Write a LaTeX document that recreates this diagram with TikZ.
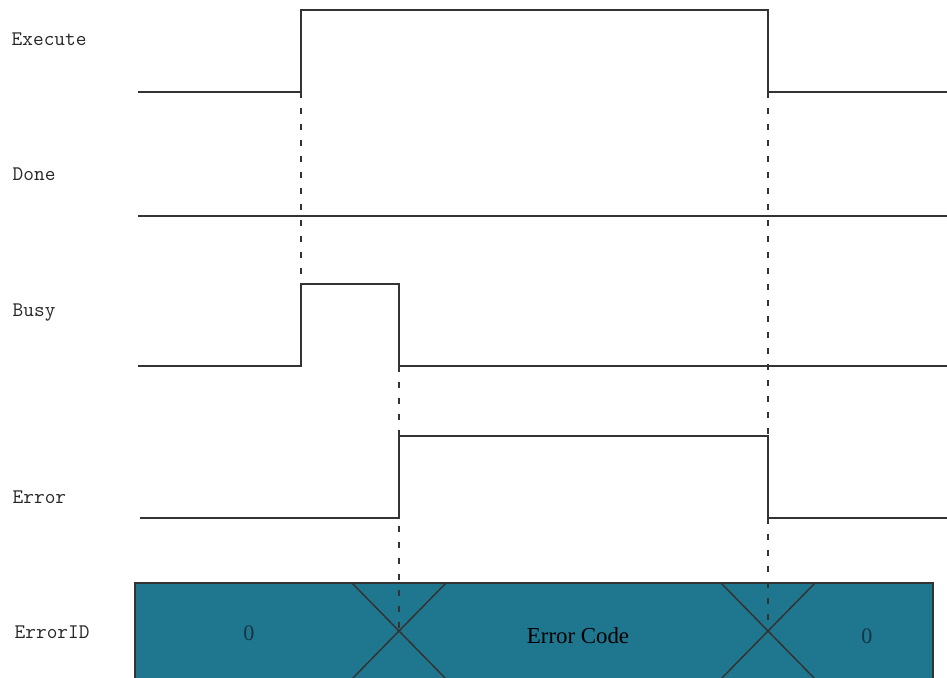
\documentclass[tikz,border=0pt]{standalone}
\usepackage{fontspec}
\setmainfont{Liberation Serif}
\definecolor{busfill}{RGB}{31,119,143}
\definecolor{valtext}{RGB}{22,52,66}
\begin{document}
\begin{tikzpicture}[x=0.02cm, y=-0.02cm, line width=0.85pt,
    sig/.style={draw=black!80},
    guide/.style={draw=black!80, dash pattern=on 3.4pt off 5.7pt},
    lab/.style={anchor=west, inner sep=0pt, font=\fontsize{11.8}{13}\selectfont\ttfamily, text=black!85},
    val/.style={inner sep=0pt, font=\fontsize{12.6}{14}\selectfont, text=valtext}]
  \useasboundingbox (0,0) rectangle (947,677);
  \clip (0,0) rectangle (947,677);
  % signal names
  \node[lab] (lexec) at (11,39) {Execute};
  \node[lab] (ldone) at (12,174) {Done};
  \node[lab] (lbusy) at (12,313) {Busy};
  \node[lab] (lerr) at (12,497) {Error};
  \node[lab] (lerrid) at (14,632) {ErrorID};
  % edge points
  \coordinate (exup) at (301,92);
  \coordinate (exdn) at (768,92);
  \coordinate (bsup) at (301,284);
  \coordinate (bsdn) at (399,366);
  \coordinate (erlo) at (399,436);
  \coordinate (erhi) at (768,436);
  \coordinate (erlo2) at (768,518);
  \coordinate (xa) at (399,632);
  \coordinate (xb) at (768,632);
  % ErrorID bus
  \fill[busfill] (135,583) rectangle (933,700);
  \draw[sig] (135,700) -- (135,583) -- (933,583) -- (933,700);
  \draw[sig] (352,583) -- (448,681);
  \draw[sig] (446,583) -- (350,681);
  \draw[sig] (721,583) -- (817,681);
  \draw[sig] (815,583) -- (719,681);
  \node[val] (v0a) at (249,633) {0};
  \node[inner sep=0pt, font=\fontsize{13}{15}\selectfont, text=black] (vcode) at (578,636) {Error Code};
  \node[val] (v0b) at (867,636) {0};
  % guide lines
  \draw[guide] (exup) -- (bsup);
  \draw[guide] (exdn) -- (erhi);
  \draw[guide] (erlo2) -- (xb);
  \draw[guide] (bsdn) -- (xa);
  % waveforms
  \draw[sig] (138,92) -- (exup) -- (301,10) -- (768,10) -- (exdn) -- (947,92);
  \draw[sig] (138,216) -- (947,216);
  \draw[sig] (138,366) -- (301,366) -- (bsup) -- (399,284) -- (bsdn) -- (947,366);
  \draw[sig] (140,518) -- (399,518) -- (erlo) -- (erhi) -- (erlo2) -- (947,518);
\end{tikzpicture}
\end{document}
